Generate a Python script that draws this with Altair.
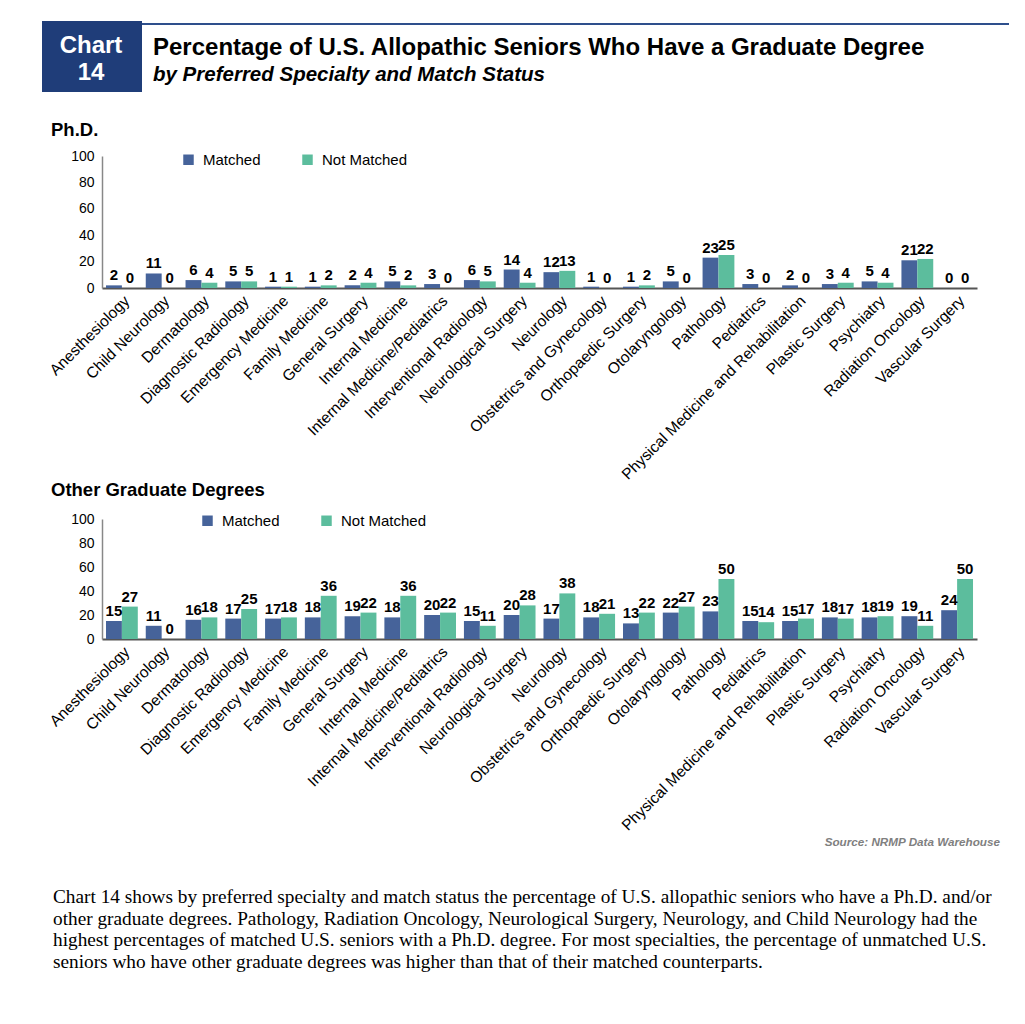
import altair as alt
import pandas as pd

specialties = [
    "Anesthesiology", "Child Neurology", "Dermatology", "Diagnostic Radiology",
    "Emergency Medicine", "Family Medicine", "General Surgery", "Internal Medicine",
    "Internal Medicine/Pediatrics", "Interventional Radiology", "Neurological Surgery",
    "Neurology", "Obstetrics and Gynecology", "Orthopaedic Surgery", "Otolaryngology",
    "Pathology", "Pediatrics", "Physical Medicine and Rehabilitation", "Plastic Surgery",
    "Psychiatry", "Radiation Oncology", "Vascular Surgery",
]
phd_matched = [2, 11, 6, 5, 1, 1, 2, 5, 3, 6, 14, 12, 1, 1, 5, 23, 3, 2, 3, 5, 21, 0]
phd_not_matched = [0, 0, 4, 5, 1, 2, 4, 2, 0, 5, 4, 13, 0, 2, 0, 25, 0, 0, 4, 4, 22, 0]
other_matched = [15, 11, 16, 17, 17, 18, 19, 18, 20, 15, 20, 17, 18, 13, 22, 23, 15, 15, 18, 18, 19, 24]
other_not_matched = [27, 0, 18, 25, 18, 36, 22, 36, 22, 11, 28, 38, 21, 22, 27, 50, 14, 17, 17, 19, 11, 50]
statuses = ["Matched", "Not Matched"]
colors = ["#46639a", "#5cbd9d"]
y_ticks = [0, 20, 40, 60, 80, 100]

chart_label = ["Chart", "14"]
title_text = "Percentage of U.S. Allopathic Seniors Who Have a Graduate Degree"
subtitle_text = "by Preferred Specialty and Match Status"
panel_titles = ["Ph.D.", "Other Graduate Degrees"]
source_text = "Source: NRMP Data Warehouse"
paragraph = [
    "Chart 14 shows by preferred specialty and match status the percentage of U.S. allopathic seniors who have a Ph.D. and/or",
    "other graduate degrees. Pathology, Radiation Oncology, Neurological Surgery, Neurology, and Child Neurology had the",
    "highest percentages of matched U.S. seniors with a Ph.D. degree. For most specialties, the percentage of unmatched U.S.",
    "seniors who have other graduate degrees was higher than that of their matched counterparts.",
]

SANS = "Liberation Sans"
SERIF = "Liberation Serif"
W = 875


def long_df(m, n):
    rows = []
    for s, a, b in zip(specialties, m, n):
        rows.append({"specialty": s, "status": "Matched", "value": a})
        rows.append({"specialty": s, "status": "Not Matched", "value": b})
    return pd.DataFrame(rows)


def note(text, x, y, size, weight="normal", style="normal", color="black",
         align="left", font=SANS):
    return alt.Chart(pd.DataFrame({"t": [text]})).mark_text(
        align=align, baseline="alphabetic", fontSize=size, fontWeight=weight,
        fontStyle=style, color=color, font=font,
    ).encode(x=alt.value(x), y=alt.value(y), text="t:N")


def box(x, x2, y, y2, color):
    return alt.Chart(pd.DataFrame({"a": [0]})).mark_rect(color=color).encode(
        x=alt.value(x), x2=alt.value(x2), y=alt.value(y), y2=alt.value(y2)
    )


def y_axis():
    return alt.Axis(values=y_ticks, title=None, grid=False, ticks=False,
                    labelFontSize=14, domainColor="#888888", domainWidth=1.5,
                    labelColor="black", labelPadding=8, labelFont=SANS,
                    labelOverlap=False)


def panel(df, legend_x, legend_y):
    base = alt.Chart(df).encode(
        x=alt.X(
            "specialty:N", sort=specialties,
            scale=alt.Scale(paddingInner=0.2, paddingOuter=0.1),
            axis=alt.Axis(title=None, labelAngle=-45, labelFontSize=15.5,
                          labelColor="black", ticks=False, domainColor="#555555",
                          domainWidth=2, labelPadding=5, labelLimit=400,
                          labelFont=SANS, labelOverlap=False),
        ),
        xOffset=alt.XOffset("status:N", sort=statuses),
    )
    yenc = alt.Y("value:Q", scale=alt.Scale(domain=[0, 100], nice=False), axis=y_axis())
    bars = base.mark_bar().encode(
        y=yenc,
        color=alt.Color(
            "status:N", sort=statuses,
            scale=alt.Scale(domain=statuses, range=colors),
            legend=alt.Legend(title=None, orient="none", legendX=legend_x,
                              legendY=legend_y, direction="horizontal",
                              symbolType="square", symbolSize=110,
                              labelFontSize=15, labelFont=SANS, labelColor="black",
                              columnPadding=39, labelOffset=7,
                              symbolStrokeWidth=0),
        ),
    )
    labels = base.mark_text(
        baseline="bottom", dy=-2, fontSize=15, fontWeight="bold",
        color="black", font=SANS,
    ).encode(y=yenc, text="value:Q")
    return bars, labels


top_bars, top_labels = panel(long_df(phd_matched, phd_not_matched), 79, -4)
bot_bars, bot_labels = panel(long_df(other_matched, other_not_matched), 98, -6)

top = alt.layer(
    box(-94, -93, -148, -147, "white"),
    box(-60, 40, -135, -64, "#1f3d79"),
    box(40, 907, -133, -131, "#2e4f8c"),
    note(chart_label[0], -11, -103, 24, weight="bold", color="white", align="center"),
    note(chart_label[1], -11, -76, 24, weight="bold", color="white", align="center"),
    note(title_text, 51, -101, 24, weight="bold"),
    note(subtitle_text, 51, -75, 20.5, weight="bold", style="italic"),
    note(panel_titles[0], -51, -20, 18.5, weight="bold"),
    top_bars, top_labels,
).properties(width=W, height=132)

bottom_layers = [
    note(panel_titles[1], -51, -23, 18.5, weight="bold"),
    note(source_text, 898, 327, 11.7, weight="bold", style="italic", color="#808080", align="right"),
]
for i, line in enumerate(paragraph):
    bottom_layers.append(note(line, -49, 384 + i * 21.5, 19.3, font=SERIF))

bottom = alt.layer(*bottom_layers, bot_bars, bot_labels).properties(width=W, height=120)

chart = alt.vconcat(top, bottom, spacing=231, bounds="flush").resolve_scale(
    color="independent"
).resolve_legend(color="independent").properties(
    padding=0, background="white"
).configure_view(stroke=None)

chart.save("out.html", embed_options={"renderer": "svg", "actions": False})
